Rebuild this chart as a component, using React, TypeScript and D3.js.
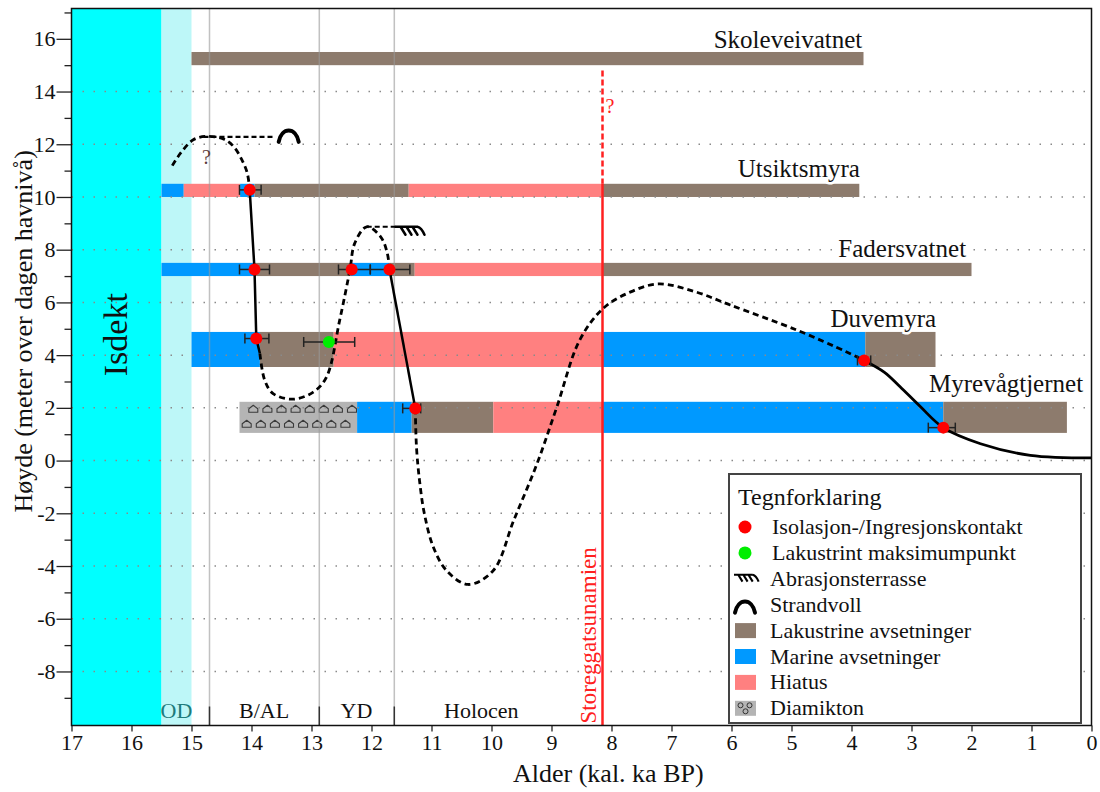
import * as d3 from "d3";
import { useEffect, useRef } from "react";

// Akser
const ageTicks = d3.range(0, 18);
const heightTicks = [-8, -6, -4, -2, 0, 2, 4, 6, 8, 10, 12, 14, 16];
const heightMinorTicks = [-9, -7, -5, -3, -1, 1, 3, 5, 7, 9, 11, 13, 15, 17];
const gridHeights = [-8, -6, -4, -2, 0, 2, 4, 6, 8, 10, 12, 14];

// Kronozoner
const iceAge = 15.5;
const odAge = 15.0;
const zoneBounds = [14.7, 12.87, 11.62];
const zoneNames = ["OD", "B/AL", "YD", "Holocen"];
const zoneLabelAges = [15.25, 13.79, 12.25, 10.17];

const tsunamiAge = 8.15;

// Lokaliteter (bunn/topp i m, segmenter [fra ka, til ka, type])
const siteNames = ["Skoleveivatnet", "Utsiktsmyra", "Fadersvatnet", "Duvemyra", "Myrevågtjernet"];
const siteBottom = [15.0, 10.0, 7.0, 3.55, 1.05];
const siteTop = [15.5, 10.5, 7.5, 4.88, 2.23];
const siteLabelAge = [3.82, 3.86, 2.09, 2.59, 0.14];
const siteLabelHeight = [15.66, 10.76, 7.73, 5.06, 2.59];
const siteSegments: [number, number, string][][] = [
  [[15.0, 3.8, "L"]],
  [[15.5, 15.13, "M"], [15.13, 14.19, "H"], [14.19, 13.95, "M"], [13.95, 11.38, "L"], [11.38, 8.15, "H"], [8.15, 3.87, "L"]],
  [[15.5, 13.97, "M"], [13.97, 12.35, "L"], [12.35, 11.7, "M"], [11.7, 11.28, "L"], [11.28, 8.15, "H"], [8.15, 2.0, "L"]],
  [[15.0, 13.86, "M"], [13.86, 12.63, "L"], [12.63, 8.15, "H"], [8.15, 3.77, "M"], [3.77, 2.6, "L"]],
  [[14.2, 12.24, "D"], [12.24, 11.33, "M"], [11.33, 9.97, "L"], [9.97, 8.15, "H"], [8.15, 2.47, "M"], [2.47, 0.41, "L"]],
];

// Daterte punkter
const pointAge = [14.03, 13.95, 12.33, 11.7, 13.92, 12.71, 3.79, 11.27, 2.47];
const pointHeight = [10.27, 7.25, 7.25, 7.25, 4.63, 4.5, 3.8, 1.98, 1.25];
const pointErrOld = [14.2, 14.2, 12.55, 12.02, 14.11, 13.13, 3.9, 11.48, 2.72];
const pointErrYoung = [13.84, 13.7, 12.02, 11.36, 13.71, 12.28, 3.68, 11.18, 2.27];
const pointKind = ["iso", "iso", "iso", "iso", "iso", "lake", "iso", "iso", "iso"];

// Strandforskyvningskurve
const curveDashed1: [number, number][] = [
  [15.32, 11.19], [15.18, 11.67], [14.97, 12.17], [14.75, 12.3], [14.47, 12.2],
  [14.3, 11.92], [14.16, 11.41], [14.07, 10.9], [14.03, 10.27],
];
const curveSolid1: [number, number][] = [[14.03, 10.27], [13.95, 7.25], [13.92, 4.63], [13.86, 4.06]];
const curveDashed2: [number, number][] = [
  [13.86, 4.06], [13.78, 3.05], [13.64, 2.54], [13.31, 2.33], [12.97, 2.6], [12.75, 3.17],
  [12.53, 5.33], [12.36, 7.23], [12.28, 8.24], [12.08, 8.87], [11.85, 8.5], [11.74, 7.9], [11.7, 7.25],
];
const curveSolid2: [number, number][] = [[11.7, 7.25], [11.27, 1.98]];
const curveDashed3: [number, number][] = [
  [11.27, 1.98], [11.25, 0.5], [11.2, -0.75], [11.12, -2.0], [10.97, -3.28], [10.75, -4.17],
  [10.39, -4.7], [9.97, -4.17], [9.63, -2.27], [9.24, -0.11], [8.91, 2.04], [8.53, 4.57],
  [8.14, 5.77], [7.69, 6.39], [7.22, 6.7], [6.6, 6.4], [6.02, 5.9], [4.91, 4.95], [4.08, 4.12], [3.79, 3.8],
];
const curveSolid3: [number, number][] = [
  [3.79, 3.8], [3.45, 3.35], [3.19, 2.8], [2.85, 2.04], [2.47, 1.25], [1.85, 0.64], [1.02, 0.2], [0, 0.1],
];

// Strandvoll og abrasjonsterrasse
const strandLine: [number, number][] = [[14.8, 12.28], [13.6, 12.28]];
const strandSymbolAge = 13.38;
const terraceLine: [number, number][] = [[12.08, 8.87], [11.6, 8.87]];
const terraceSymbolAge = 11.6;

// Tegnforklaring
const legendLabels = [
  "Isolasjon-/Ingresjonskontakt", "Lakustrint maksimumpunkt", "Abrasjonsterrasse", "Strandvoll",
  "Lakustrine avsetninger", "Marine avsetninger", "Hiatus", "Diamikton",
];
const legendKinds = ["iso", "lake", "abr", "strand", "L", "M", "H", "D"];

const fills: Record<string, string> = { L: "#8d7b6d", M: "#0099ff", H: "#ff8080", D: "#b4b4b4" };
const pointFills: Record<string, string> = { iso: "#ff0000", lake: "#00ee00" };
const font = "'Liberation Serif', 'Times New Roman', serif";

const terracePath = "M0,0 H22 M5,0 l5,8 M11,0 l5,8 M17,0 l5,8 M22,0 q4,1 7,8";
const strandPath = "M-10,7 C-7,-8 7,-8 10,7";
const pebble = "M-4.5,3.5 L4.5,3.5 L4.5,0 L0,-3.5 L-4.5,0 Z";

const App = () => {
  const ref = useRef<SVGSVGElement>(null);

  useEffect(() => {
    const svg = d3.select(ref.current);
    svg.selectAll("*").remove();

    const x = d3.scaleLinear().domain([17, 0]).range([71.5, 1091.5]);
    const y = d3.scaleLinear().domain([-10.05, 17.15]).range([725.5, 8.5]);
    const top = y.range()[1];
    const bottom = y.range()[0];

    // Isdekke og OD
    svg.append("rect").attr("x", x(17)).attr("y", top).attr("width", x(iceAge) - x(17))
      .attr("height", bottom - top).attr("fill", "#00ffff");
    svg.append("rect").attr("x", x(iceAge)).attr("y", top).attr("width", x(odAge) - x(iceAge))
      .attr("height", bottom - top).attr("fill", "#bdf7f8");

    // Lagsøyler
    siteSegments.forEach((segs, i) => {
      segs.forEach(([a0, a1, kind]) => {
        svg.append("rect")
          .attr("x", x(a0)).attr("y", y(siteTop[i]))
          .attr("width", x(a1) - x(a0)).attr("height", y(siteBottom[i]) - y(siteTop[i]))
          .attr("fill", fills[kind]);
        if (kind === "D") {
          const x0 = x(a0), x1 = x(a1), yt = y(siteTop[i]);
          const rows = [
            { xs: d3.range(x0 + 13.8, x1 - 4, 14.1), dy: 7 },
            { xs: d3.range(x0 + 7.2, x1 - 10, 14.1), dy: 22 },
          ];
          rows.forEach(r => r.xs.forEach(px => {
            svg.append("path").attr("d", pebble)
              .attr("transform", `translate(${px},${yt + r.dy})`)
              .attr("fill", "none").attr("stroke", "#3a3a3a").attr("stroke-width", 1.1)
              .attr("stroke-linejoin", "round");
          }));
        }
      });
    });

    // Rutenett
    gridHeights.forEach(h => {
      svg.append("line").attr("x1", x(17)).attr("x2", x(0)).attr("y1", y(h)).attr("y2", y(h))
        .attr("stroke", "#8a8a8a").attr("stroke-width", 1.5).attr("stroke-dasharray", "1.5,9.5");
    });
    zoneBounds.forEach(a => {
      svg.append("line").attr("x1", x(a)).attr("x2", x(a)).attr("y1", top).attr("y2", bottom)
        .attr("stroke", "#999").attr("stroke-width", 1.5).attr("opacity", 0.6);
      svg.append("line").attr("x1", x(a)).attr("x2", x(a)).attr("y1", bottom - 19).attr("y2", bottom)
        .attr("stroke", "#333").attr("stroke-width", 1.5);
    });

    // Kronozone-navn
    zoneNames.forEach((n, i) => {
      svg.append("text").attr("x", x(zoneLabelAges[i])).attr("y", bottom - 7.5)
        .attr("text-anchor", "middle").attr("font-family", font).attr("font-size", 22)
        .attr("fill", n === "OD" ? "#1e7b7b" : "#111").text(n);
    });

    // Lokalitetsnavn
    siteNames.forEach((n, i) => {
      svg.append("text").attr("x", x(siteLabelAge[i])).attr("y", y(siteLabelHeight[i]))
        .attr("text-anchor", "end").attr("font-family", font).attr("font-size", 25)
        .attr("fill", "#111").attr("stroke", "#fff").attr("stroke-width", 5)
        .attr("paint-order", "stroke").text(n);
    });

    // Storegga
    svg.append("line").attr("x1", x(tsunamiAge)).attr("x2", x(tsunamiAge))
      .attr("y1", y(14.8)).attr("y2", y(10.5))
      .attr("stroke", "#ff2020").attr("stroke-width", 2.5).attr("stroke-dasharray", "6,3");
    svg.append("line").attr("x1", x(tsunamiAge)).attr("x2", x(tsunamiAge))
      .attr("y1", y(10.5)).attr("y2", bottom)
      .attr("stroke", "#ff2020").attr("stroke-width", 2.5);
    svg.append("text").attr("x", x(tsunamiAge) + 3).attr("y", y(13.2))
      .attr("font-family", font).attr("font-size", 20).attr("fill", "#ff2020").text("?");
    svg.append("text")
      .attr("transform", `translate(${x(tsunamiAge) - 7},${bottom - 2}) rotate(-90)`)
      .attr("font-family", font).attr("font-size", 23).attr("fill", "#ff2020").text("Storeggatsunamien");

    // Kurve
    const line = d3.line<[number, number]>().x(d => x(d[0])).y(d => y(d[1]))
      .curve(d3.curveCatmullRom.alpha(0.5));
    const straight = d3.line<[number, number]>().x(d => x(d[0])).y(d => y(d[1]));
    [curveDashed1, curveDashed2, curveDashed3].forEach(c => {
      svg.append("path").attr("d", line(c)).attr("fill", "none").attr("stroke", "#000")
        .attr("stroke-width", 2.8).attr("stroke-dasharray", "6,4");
    });
    [strandLine, terraceLine].forEach(c => {
      svg.append("path").attr("d", straight(c)).attr("fill", "none").attr("stroke", "#000")
        .attr("stroke-width", 2.2).attr("stroke-dasharray", "5,3");
    });
    [curveSolid1, curveSolid2].forEach(c => {
      svg.append("path").attr("d", straight(c)).attr("fill", "none").attr("stroke", "#000").attr("stroke-width", 2.5);
    });
    svg.append("path").attr("d", line(curveSolid3)).attr("fill", "none").attr("stroke", "#000").attr("stroke-width", 2.8);

    svg.append("path").attr("d", strandPath)
      .attr("transform", `translate(${x(strandSymbolAge)},${y(12.28) - 2})`)
      .attr("fill", "none").attr("stroke", "#000").attr("stroke-width", 4).attr("stroke-linecap", "round");
    svg.append("path").attr("d", terracePath)
      .attr("transform", `translate(${x(terraceSymbolAge)},${y(8.87)})`)
      .attr("fill", "none").attr("stroke", "#000").attr("stroke-width", 2.5).attr("stroke-linecap", "round");
    svg.append("text").attr("x", x(14.75)).attr("y", y(11.25)).attr("text-anchor", "middle")
      .attr("font-family", font).attr("font-size", 20).attr("fill", "#5b3b3b").text("?");

    // Feilstolper og punkter
    pointAge.forEach((a, i) => {
      const py = y(pointHeight[i]);
      const g = svg.append("g").attr("stroke", "#222").attr("stroke-width", 1.5);
      g.append("line").attr("x1", x(pointErrOld[i])).attr("x2", x(pointErrYoung[i])).attr("y1", py).attr("y2", py);
      [pointErrOld[i], pointErrYoung[i]].forEach(e => {
        g.append("line").attr("x1", x(e)).attr("x2", x(e)).attr("y1", py - 5).attr("y2", py + 5);
      });
      svg.append("circle").attr("cx", x(a)).attr("cy", py).attr("r", 6).attr("fill", pointFills[pointKind[i]]);
    });

    // Isdekt
    svg.append("text")
      .attr("transform", `translate(${x(16.25) + 10},${y(3.2)}) rotate(-90)`)
      .attr("font-family", font).attr("font-size", 34).attr("fill", "#111").text("Isdekt");

    // Akser
    const yAxis = svg.append("g").attr("transform", `translate(${x(17)},0)`)
      .call(d3.axisLeft(y).tickValues(heightTicks).tickSize(15).tickPadding(1).tickFormat(d => String(d)));
    svg.append("g").attr("transform", `translate(${x(17)},0)`)
      .call(d3.axisLeft(y).tickValues(heightMinorTicks).tickSize(7).tickFormat(() => ""))
      .call(g => g.select(".domain").remove())
      .selectAll("line").attr("stroke", "#222").attr("stroke-width", 1.3);
    const xAxis = svg.append("g").attr("transform", `translate(0,${bottom})`)
      .call(d3.axisBottom(x).tickValues(ageTicks).tickSize(6).tickPadding(3).tickFormat(d => String(d)));
    [yAxis, xAxis].forEach(ax => {
      ax.select(".domain").remove();
      ax.selectAll("text").attr("font-family", font).attr("font-size", 22).attr("fill", "#111");
      ax.selectAll("line").attr("stroke", "#222").attr("stroke-width", 1.3);
    });
    svg.append("rect").attr("x", x(17)).attr("y", top).attr("width", x(0) - x(17)).attr("height", bottom - top)
      .attr("fill", "none").attr("stroke", "#111").attr("stroke-width", 1.5);

    svg.append("text").attr("x", 513).attr("y", 782).attr("font-family", font).attr("font-size", 26)
      .attr("fill", "#111").text("Alder (kal. ka BP)");
    svg.append("text").attr("transform", `translate(32,${y(4.9)}) rotate(-90)`)
      .attr("text-anchor", "middle").attr("font-family", font).attr("font-size", 26)
      .attr("fill", "#111").text("Høyde (meter over dagen havnivå)");

    // Tegnforklaring
    const lg = svg.append("g").attr("font-family", font).attr("fill", "#111");
    lg.append("rect").attr("x", 729).attr("y", 474).attr("width", 352).attr("height", 249)
      .attr("fill", "#fff").attr("stroke", "#444").attr("stroke-width", 2);
    lg.append("text").attr("x", 738).attr("y", 505).attr("font-size", 24).text("Tegnforklaring");
    legendLabels.forEach((label, i) => {
      const by = 534 + i * 25.9;
      const kind = legendKinds[i];
      const cy = by - 7;
      if (kind === "iso" || kind === "lake") {
        lg.append("circle").attr("cx", 745).attr("cy", cy).attr("r", 6.5).attr("fill", pointFills[kind]);
      } else if (kind === "abr") {
        lg.append("path").attr("d", terracePath).attr("transform", `translate(734,${cy - 4}) scale(0.85)`)
          .attr("fill", "none").attr("stroke", "#000").attr("stroke-width", 2.5);
      } else if (kind === "strand") {
        lg.append("path").attr("d", strandPath).attr("transform", `translate(745,${cy + 1})`)
          .attr("fill", "none").attr("stroke", "#000").attr("stroke-width", 4).attr("stroke-linecap", "round");
      } else {
        lg.append("rect").attr("x", 735).attr("y", cy - 7.5).attr("width", 21).attr("height", 15).attr("fill", fills[kind]);
        if (kind === "D") {
          [[-5, -3], [4, -3], [0, 3]].forEach(([dx, dy]) => {
            lg.append("circle").attr("cx", 745.5 + dx).attr("cy", cy + dy).attr("r", 2.5)
              .attr("fill", "none").attr("stroke", "#333").attr("stroke-width", 1);
          });
        }
      }
      lg.append("text").attr("x", i < 2 ? 772 : 770).attr("y", by).attr("font-size", 22).text(label);
    });
  }, []);

  return (
    <svg ref={ref} width={1100} height={792}
      style={{ position: "absolute", left: 0, top: 0, background: "#fff" }} />
  );
};

export default App;
